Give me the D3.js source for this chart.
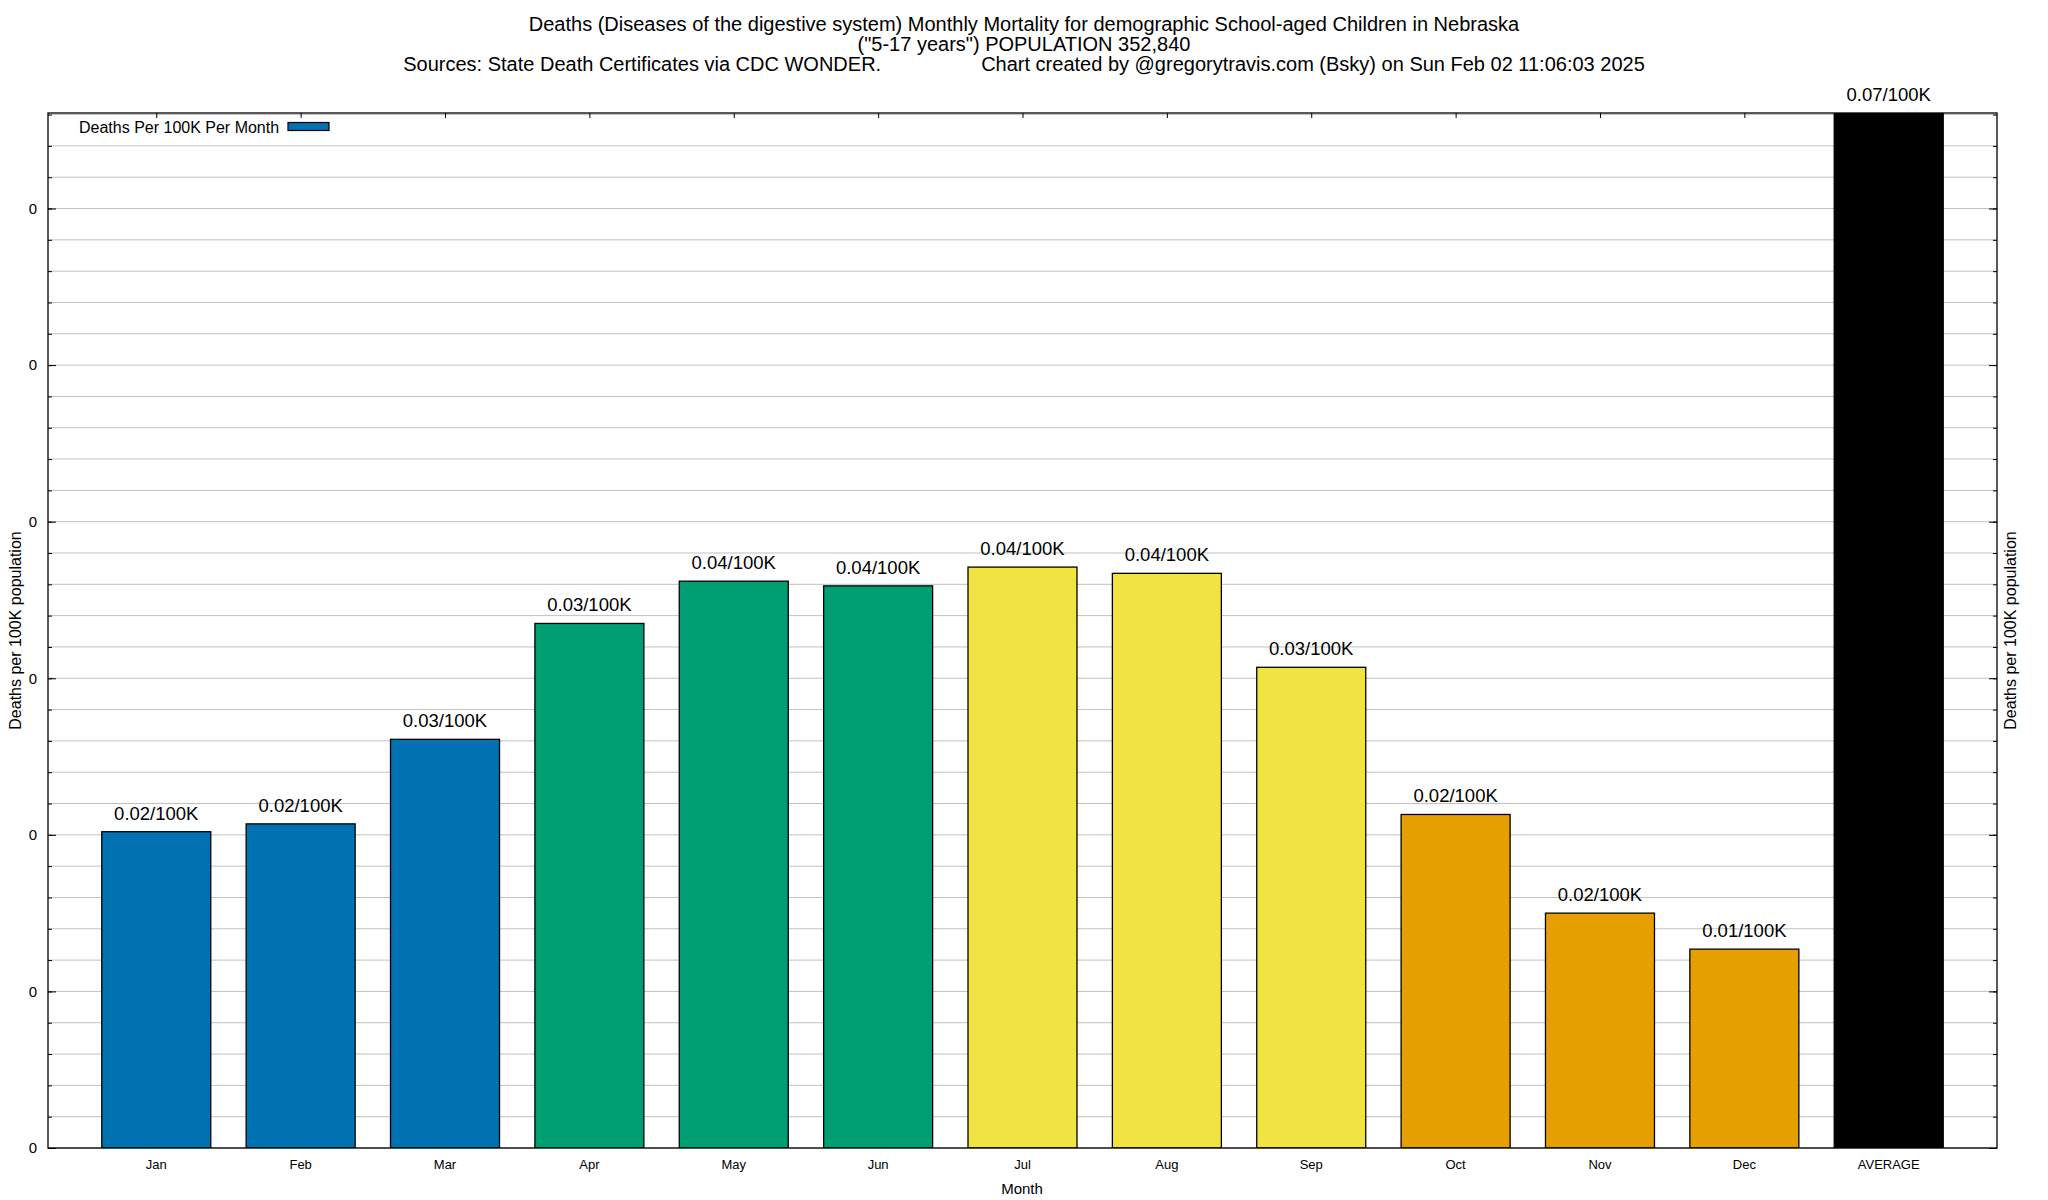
<!DOCTYPE html>
<html>
<head>
<meta charset="utf-8">
<script src="https://cdn.jsdelivr.net/npm/d3@7"></script>
<style>
  body { margin: 0; background: #fff; }
  svg text { font-family: "Liberation Sans", Arial, sans-serif; fill: #000; }
</style>
</head>
<body>
<svg id="chart"></svg>
<script>
// podatki
var months = ["Jan", "Feb", "Mar", "Apr", "May", "Jun", "Jul", "Aug", "Sep", "Oct", "Nov", "Dec", "AVERAGE"];
var deathsPer100k = [0.0202, 0.0207, 0.0261, 0.0335, 0.0362, 0.0359, 0.0371, 0.0367, 0.0307, 0.0213, 0.0150, 0.0127, 0.0700];
var barLabels = ["0.02/100K", "0.02/100K", "0.03/100K", "0.03/100K", "0.04/100K", "0.04/100K", "0.04/100K",
  "0.04/100K", "0.03/100K", "0.02/100K", "0.02/100K", "0.01/100K", "0.07/100K"];
var yMajorTicks = [0, 0.01, 0.02, 0.03, 0.04, 0.05, 0.06];
var titleLines = [
  "Deaths (Diseases of the digestive system) Monthly Mortality for demographic School-aged Children in Nebraska",
  "(\"5-17 years\") POPULATION 352,840",
  "Sources: State Death Certificates via CDC WONDER.                  Chart created by @gregorytravis.com (Bsky) on Sun Feb 02 11:06:03 2025"
];

// barve po letnih časih
var seasonColors = ["#0072b2", "#0072b2", "#0072b2", "#009e73", "#009e73", "#009e73",
  "#f0e442", "#f0e442", "#f0e442", "#e69f00", "#e69f00", "#e69f00", "#000000"];

const width = 2048;
const height = 1200;
const plot = {left: 48, right: 1997, top: 113, bottom: 1148};

const svg = d3.select("#chart")
  .attr("width", width)
  .attr("height", height);

svg.append("rect")
  .attr("width", width)
  .attr("height", height)
  .attr("fill", "#fff");

const xScale = d3.scaleLinear()
  .domain([-0.75, months.length - 0.25])
  .range([plot.left, plot.right]);

const yScale = d3.scaleLinear()
  .domain([0, 0.0661])
  .range([plot.bottom, plot.top]);

// mreža (vsak manjši razdelek)
var minorTicks = d3.range(0, 0.0661, 0.002);

svg.append("g")
  .selectAll("line")
  .data(minorTicks)
  .enter().append("line")
    .attr("x1", plot.left)
    .attr("x2", plot.right)
    .attr("y1", d => yScale(d))
    .attr("y2", d => yScale(d))
    .attr("stroke", "#c0c0c0")
    .attr("stroke-width", 1);

// osi - leva in desna
svg.append("g")
  .attr("transform", `translate(${plot.left}, 0)`)
  .call(d3.axisRight(yScale).tickValues(minorTicks).tickSize(4).tickFormat(""))
  .call(g => g.select(".domain").remove());
svg.append("g")
  .attr("transform", `translate(${plot.left}, 0)`)
  .call(d3.axisRight(yScale).tickValues(yMajorTicks).tickSize(8).tickFormat(""))
  .call(g => g.select(".domain").remove());
svg.append("g")
  .attr("transform", `translate(${plot.right}, 0)`)
  .call(d3.axisLeft(yScale).tickValues(minorTicks).tickSize(4).tickFormat(""))
  .call(g => g.select(".domain").remove());
svg.append("g")
  .attr("transform", `translate(${plot.right}, 0)`)
  .call(d3.axisLeft(yScale).tickValues(yMajorTicks).tickSize(8).tickFormat(""))
  .call(g => g.select(".domain").remove());

// oznake y
svg.append("g")
  .selectAll("text")
  .data(yMajorTicks)
  .enter().append("text")
    .attr("x", 33)
    .attr("y", d => yScale(d))
    .attr("dy", "0.36em")
    .attr("text-anchor", "middle")
    .style("font-size", "15px")
    .text(d => d3.format(".0f")(d));

// x - zgoraj kljukice
svg.append("g")
  .attr("transform", `translate(0, ${plot.top})`)
  .call(d3.axisBottom(xScale).tickValues(d3.range(months.length)).tickSize(5).tickFormat(""))
  .call(g => g.select(".domain").remove());

// stolpci
svg.append("clipPath")
  .attr("id", "plotClip")
  .append("rect")
    .attr("x", plot.left)
    .attr("y", plot.top)
    .attr("width", plot.right - plot.left)
    .attr("height", plot.bottom - plot.top);

const barWidth = xScale(0.755) - xScale(0);

svg.append("g")
  .attr("clip-path", "url(#plotClip)")
  .selectAll("rect")
  .data(deathsPer100k)
  .enter().append("rect")
    .attr("x", (d, i) => xScale(i) - barWidth / 2)
    .attr("y", d => yScale(d))
    .attr("width", barWidth)
    .attr("height", d => yScale(0) - yScale(d))
    .attr("fill", (d, i) => seasonColors[i])
    .attr("stroke", "#000")
    .attr("stroke-width", 1.3);

// napisi nad stolpci
svg.append("g")
  .selectAll("text")
  .data(deathsPer100k)
  .enter().append("text")
    .attr("x", (d, i) => xScale(i))
    .attr("y", d => Math.max(yScale(d), plot.top) - 12)
    .attr("text-anchor", "middle")
    .style("font-size", "18.5px")
    .text((d, i) => barLabels[i]);

// meseci
svg.append("g")
  .selectAll("text")
  .data(months)
  .enter().append("text")
    .attr("x", (d, i) => xScale(i))
    .attr("y", plot.bottom + 21)
    .attr("text-anchor", "middle")
    .style("font-size", "13px")
    .text(d => d);

// okvir
svg.append("rect")
  .attr("x", plot.left)
  .attr("y", plot.top)
  .attr("width", plot.right - plot.left)
  .attr("height", plot.bottom - plot.top)
  .attr("fill", "none")
  .attr("stroke", "#000")
  .attr("stroke-width", 1.3);

// legenda
svg.append("text")
  .attr("x", 79)
  .attr("y", 133)
  .style("font-size", "16px")
  .text("Deaths Per 100K Per Month");
svg.append("rect")
  .attr("x", 288)
  .attr("y", 122.5)
  .attr("width", 41)
  .attr("height", 8)
  .attr("fill", seasonColors[0])
  .attr("stroke", "#000")
  .attr("stroke-width", 1.2);

// naslov
svg.append("g")
  .selectAll("text")
  .data(titleLines)
  .enter().append("text")
    .attr("x", width / 2)
    .attr("y", (d, i) => 31 + i * 20)
    .attr("text-anchor", "middle")
    .attr("xml:space", "preserve")
    .style("white-space", "pre")
    .style("font-size", "20px")
    .text(d => d);

// osni naslovi
svg.append("text")
  .attr("x", width / 2 - 2)
  .attr("y", 1194)
  .attr("text-anchor", "middle")
  .style("font-size", "15px")
  .text("Month");

svg.append("text")
  .attr("transform", `translate(21, ${(plot.top + plot.bottom) / 2}) rotate(-90)`)
  .attr("text-anchor", "middle")
  .style("font-size", "16px")
  .text("Deaths per 100K population");

svg.append("text")
  .attr("transform", `translate(2016, ${(plot.top + plot.bottom) / 2}) rotate(-90)`)
  .attr("text-anchor", "middle")
  .style("font-size", "16px")
  .text("Deaths per 100K population");
</script>
</body>
</html>
